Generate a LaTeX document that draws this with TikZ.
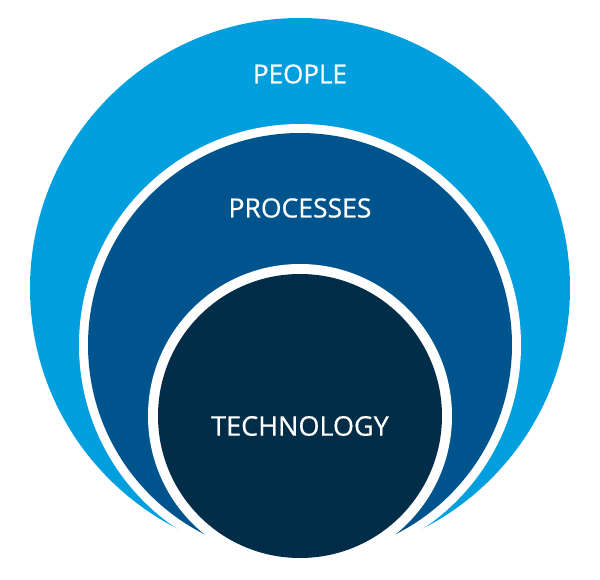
\documentclass[tikz,border=0pt]{standalone}
\usepackage{fontspec}
\setmainfont{Open Sans}
\newfontfamily\ringfont[FakeBold=0.6]{Open Sans}
\usepackage{tikz}
\usetikzlibrary{positioning}
\definecolor{peopleblue}{RGB}{2,159,223}
\definecolor{processblue}{RGB}{0,84,142}
\definecolor{technavy}{RGB}{2,45,72}

\begin{document}
\begin{tikzpicture}[line cap=round,line join=round,x=1pt,y=-1pt,
  ringlabel/.style={text=white,inner sep=0pt}]
\useasboundingbox (0,0) rectangle (600,580);
% outer ring
\fill [peopleblue] (300,288) circle (270pt);
\fill [white] (300,345) circle (221pt);
% middle ring
\fill [processblue] (300,345) circle (212pt);
\fill [white] (300,416) circle (152pt);
% inner disc
\fill [technavy] (300,416) circle (142pt);
\node [ringlabel,font=\ringfont\fontsize{26}{26}\selectfont] (people) at (300,74) {PEOPLE};
\node [ringlabel,font=\ringfont\fontsize{26.5}{26.5}\selectfont] (processes) at (300,208) {PROCESSES};
\node [ringlabel,font=\ringfont\fontsize{27}{27}\selectfont] (technology) at (300,426) {TECHNOLOGY};
\end{tikzpicture}
\end{document}
